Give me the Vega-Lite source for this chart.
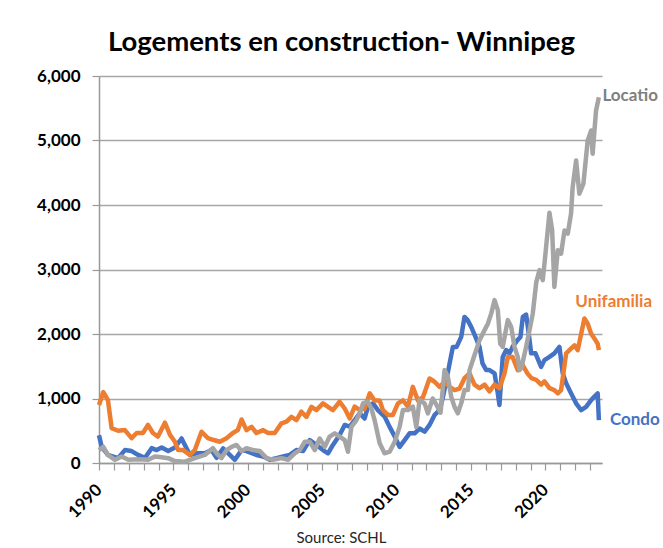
{
  "$schema": "https://vega.github.io/schema/vega-lite/v6.json",
  "autosize": {"type": "none"},
  "padding": {"left": 99, "top": 76, "right": 61, "bottom": 85},
  "width": 503,
  "height": 387,
  "background": "white",
  "config": {
    "view": {"stroke": null},
    "font": "Lato"
  },
  "title": {
    "text": "Logements en construction- Winnipeg",
    "font": "Lato",
    "fontSize": 27.5,
    "fontWeight": "bold",
    "color": "#000000",
    "anchor": "middle",
    "dx": -9,
    "offset": 11
  },
  "data": {
    "values": [
      {"s":"Condo","t":1990.00,"v":430},{"s":"Condo","t":1990.18,"v":250},{"s":"Condo","t":1990.60,"v":125},{"s":"Condo","t":1991.28,"v":75},{"s":"Condo","t":1991.74,"v":200},{"s":"Condo","t":1992.19,"v":185},{"s":"Condo","t":1992.62,"v":125},{"s":"Condo","t":1993.09,"v":80},{"s":"Condo","t":1993.54,"v":230},{"s":"Condo","t":1993.87,"v":200},{"s":"Condo","t":1994.21,"v":240},{"s":"Condo","t":1994.65,"v":185},{"s":"Condo","t":1995.10,"v":240},{"s":"Condo","t":1995.55,"v":380},{"s":"Condo","t":1995.77,"v":280},{"s":"Condo","t":1996.11,"v":125},{"s":"Condo","t":1996.56,"v":150},{"s":"Condo","t":1997.11,"v":150},{"s":"Condo","t":1997.56,"v":200},{"s":"Condo","t":1997.90,"v":80},{"s":"Condo","t":1998.34,"v":225},{"s":"Condo","t":1998.79,"v":125},{"s":"Condo","t":1999.13,"v":50},{"s":"Condo","t":1999.58,"v":200},{"s":"Condo","t":1999.91,"v":185},{"s":"Condo","t":2000.58,"v":125},{"s":"Condo","t":2001.03,"v":100},{"s":"Condo","t":2001.48,"v":50},{"s":"Condo","t":2001.93,"v":75},{"s":"Condo","t":2002.37,"v":100},{"s":"Condo","t":2002.82,"v":125},{"s":"Condo","t":2003.27,"v":200},{"s":"Condo","t":2003.71,"v":185},{"s":"Condo","t":2004.16,"v":355},{"s":"Condo","t":2004.61,"v":280},{"s":"Condo","t":2005.05,"v":200},{"s":"Condo","t":2005.39,"v":150},{"s":"Condo","t":2005.72,"v":280},{"s":"Condo","t":2006.17,"v":435},{"s":"Condo","t":2006.51,"v":590},{"s":"Condo","t":2006.85,"v":565},{"s":"Condo","t":2007.18,"v":665},{"s":"Condo","t":2007.52,"v":770},{"s":"Condo","t":2007.85,"v":690},{"s":"Condo","t":2008.07,"v":870},{"s":"Condo","t":2008.41,"v":925},{"s":"Condo","t":2008.74,"v":820},{"s":"Condo","t":2009.19,"v":720},{"s":"Condo","t":2009.53,"v":560},{"s":"Condo","t":2009.87,"v":410},{"s":"Condo","t":2010.20,"v":250},{"s":"Condo","t":2010.54,"v":355},{"s":"Condo","t":2010.87,"v":460},{"s":"Condo","t":2011.21,"v":460},{"s":"Condo","t":2011.54,"v":535},{"s":"Condo","t":2011.88,"v":485},{"s":"Condo","t":2012.21,"v":590},{"s":"Condo","t":2012.55,"v":745},{"s":"Condo","t":2012.89,"v":820},{"s":"Condo","t":2013.09,"v":1000},{"s":"Condo","t":2013.36,"v":1300},{"s":"Condo","t":2013.56,"v":1545},{"s":"Condo","t":2013.78,"v":1800},{"s":"Condo","t":2014.03,"v":1800},{"s":"Condo","t":2014.34,"v":1955},{"s":"Condo","t":2014.56,"v":2265},{"s":"Condo","t":2014.77,"v":2215},{"s":"Condo","t":2015.01,"v":2110},{"s":"Condo","t":2015.30,"v":1955},{"s":"Condo","t":2015.57,"v":1800},{"s":"Condo","t":2015.77,"v":1545},{"s":"Condo","t":2016.02,"v":1440},{"s":"Condo","t":2016.24,"v":1440},{"s":"Condo","t":2016.58,"v":1390},{"s":"Condo","t":2016.80,"v":1080},{"s":"Condo","t":2016.91,"v":900},{"s":"Condo","t":2017.13,"v":1645},{"s":"Condo","t":2017.36,"v":1750},{"s":"Condo","t":2017.58,"v":1700},{"s":"Condo","t":2017.79,"v":1800},{"s":"Condo","t":2018.12,"v":1905},{"s":"Condo","t":2018.32,"v":1955},{"s":"Condo","t":2018.48,"v":2265},{"s":"Condo","t":2018.70,"v":2300},{"s":"Condo","t":2018.79,"v":2160},{"s":"Condo","t":2018.93,"v":1905},{"s":"Condo","t":2019.04,"v":1700},{"s":"Condo","t":2019.33,"v":1700},{"s":"Condo","t":2019.71,"v":1490},{"s":"Condo","t":2019.93,"v":1595},{"s":"Condo","t":2020.27,"v":1645},{"s":"Condo","t":2020.60,"v":1700},{"s":"Condo","t":2020.94,"v":1800},{"s":"Condo","t":2021.16,"v":1390},{"s":"Condo","t":2021.39,"v":1235},{"s":"Condo","t":2021.72,"v":1080},{"s":"Condo","t":2022.06,"v":925},{"s":"Condo","t":2022.40,"v":820},{"s":"Condo","t":2022.73,"v":870},{"s":"Condo","t":2023.07,"v":975},{"s":"Condo","t":2023.29,"v":1030},{"s":"Condo","t":2023.51,"v":1080},{"s":"Condo","t":2023.59,"v":665},
      {"s":"Unifamilial","t":1990.00,"v":900},{"s":"Unifamilial","t":1990.29,"v":1100},{"s":"Unifamilial","t":1990.60,"v":975},{"s":"Unifamilial","t":1990.85,"v":540},{"s":"Unifamilial","t":1991.28,"v":500},{"s":"Unifamilial","t":1991.74,"v":510},{"s":"Unifamilial","t":1992.19,"v":385},{"s":"Unifamilial","t":1992.53,"v":465},{"s":"Unifamilial","t":1992.95,"v":465},{"s":"Unifamilial","t":1993.29,"v":590},{"s":"Unifamilial","t":1993.62,"v":465},{"s":"Unifamilial","t":1993.96,"v":410},{"s":"Unifamilial","t":1994.43,"v":625},{"s":"Unifamilial","t":1994.77,"v":435},{"s":"Unifamilial","t":1995.10,"v":330},{"s":"Unifamilial","t":1995.32,"v":200},{"s":"Unifamilial","t":1995.66,"v":200},{"s":"Unifamilial","t":1996.11,"v":125},{"s":"Unifamilial","t":1996.44,"v":200},{"s":"Unifamilial","t":1996.89,"v":485},{"s":"Unifamilial","t":1997.32,"v":385},{"s":"Unifamilial","t":1997.65,"v":360},{"s":"Unifamilial","t":1998.12,"v":330},{"s":"Unifamilial","t":1998.57,"v":385},{"s":"Unifamilial","t":1998.99,"v":465},{"s":"Unifamilial","t":1999.33,"v":510},{"s":"Unifamilial","t":1999.58,"v":675},{"s":"Unifamilial","t":1999.91,"v":510},{"s":"Unifamilial","t":2000.25,"v":560},{"s":"Unifamilial","t":2000.58,"v":465},{"s":"Unifamilial","t":2001.03,"v":510},{"s":"Unifamilial","t":2001.36,"v":465},{"s":"Unifamilial","t":2001.81,"v":465},{"s":"Unifamilial","t":2002.26,"v":615},{"s":"Unifamilial","t":2002.60,"v":640},{"s":"Unifamilial","t":2002.93,"v":715},{"s":"Unifamilial","t":2003.27,"v":665},{"s":"Unifamilial","t":2003.60,"v":795},{"s":"Unifamilial","t":2003.94,"v":715},{"s":"Unifamilial","t":2004.28,"v":870},{"s":"Unifamilial","t":2004.61,"v":820},{"s":"Unifamilial","t":2005.05,"v":925},{"s":"Unifamilial","t":2005.39,"v":870},{"s":"Unifamilial","t":2005.72,"v":820},{"s":"Unifamilial","t":2006.17,"v":950},{"s":"Unifamilial","t":2006.51,"v":845},{"s":"Unifamilial","t":2006.85,"v":690},{"s":"Unifamilial","t":2007.18,"v":875},{"s":"Unifamilial","t":2007.52,"v":820},{"s":"Unifamilial","t":2007.85,"v":845},{"s":"Unifamilial","t":2008.19,"v":1080},{"s":"Unifamilial","t":2008.52,"v":970},{"s":"Unifamilial","t":2008.86,"v":970},{"s":"Unifamilial","t":2009.08,"v":820},{"s":"Unifamilial","t":2009.42,"v":745},{"s":"Unifamilial","t":2009.75,"v":745},{"s":"Unifamilial","t":2010.09,"v":925},{"s":"Unifamilial","t":2010.42,"v":970},{"s":"Unifamilial","t":2010.76,"v":875},{"s":"Unifamilial","t":2011.09,"v":1180},{"s":"Unifamilial","t":2011.43,"v":970},{"s":"Unifamilial","t":2011.77,"v":1020},{"s":"Unifamilial","t":2012.21,"v":1310},{"s":"Unifamilial","t":2012.55,"v":1260},{"s":"Unifamilial","t":2012.89,"v":1180},{"s":"Unifamilial","t":2013.22,"v":1260},{"s":"Unifamilial","t":2013.56,"v":1180},{"s":"Unifamilial","t":2013.89,"v":1130},{"s":"Unifamilial","t":2014.23,"v":1155},{"s":"Unifamilial","t":2014.56,"v":1315},{"s":"Unifamilial","t":2014.90,"v":1390},{"s":"Unifamilial","t":2015.23,"v":1215},{"s":"Unifamilial","t":2015.57,"v":1160},{"s":"Unifamilial","t":2015.91,"v":1215},{"s":"Unifamilial","t":2016.24,"v":1110},{"s":"Unifamilial","t":2016.58,"v":1215},{"s":"Unifamilial","t":2016.91,"v":1160},{"s":"Unifamilial","t":2017.25,"v":1390},{"s":"Unifamilial","t":2017.47,"v":1645},{"s":"Unifamilial","t":2017.79,"v":1645},{"s":"Unifamilial","t":2018.14,"v":1440},{"s":"Unifamilial","t":2018.48,"v":1515},{"s":"Unifamilial","t":2018.79,"v":1390},{"s":"Unifamilial","t":2019.06,"v":1315},{"s":"Unifamilial","t":2019.38,"v":1290},{"s":"Unifamilial","t":2019.71,"v":1215},{"s":"Unifamilial","t":2019.93,"v":1265},{"s":"Unifamilial","t":2020.27,"v":1160},{"s":"Unifamilial","t":2020.60,"v":1130},{"s":"Unifamilial","t":2020.83,"v":1080},{"s":"Unifamilial","t":2021.05,"v":1130},{"s":"Unifamilial","t":2021.39,"v":1700},{"s":"Unifamilial","t":2021.61,"v":1750},{"s":"Unifamilial","t":2021.95,"v":1825},{"s":"Unifamilial","t":2022.17,"v":1750},{"s":"Unifamilial","t":2022.40,"v":2005},{"s":"Unifamilial","t":2022.62,"v":2240},{"s":"Unifamilial","t":2022.84,"v":2160},{"s":"Unifamilial","t":2023.07,"v":2005},{"s":"Unifamilial","t":2023.29,"v":1930},{"s":"Unifamilial","t":2023.51,"v":1850},{"s":"Unifamilial","t":2023.59,"v":1750},
      {"s":"Location","t":1990.00,"v":200},{"s":"Location","t":1990.29,"v":250},{"s":"Location","t":1990.60,"v":125},{"s":"Location","t":1991.07,"v":50},{"s":"Location","t":1991.52,"v":100},{"s":"Location","t":1991.97,"v":50},{"s":"Location","t":1992.64,"v":60},{"s":"Location","t":1993.31,"v":50},{"s":"Location","t":1993.76,"v":100},{"s":"Location","t":1994.21,"v":90},{"s":"Location","t":1994.65,"v":75},{"s":"Location","t":1995.10,"v":30},{"s":"Location","t":1995.77,"v":20},{"s":"Location","t":1996.44,"v":75},{"s":"Location","t":1997.11,"v":125},{"s":"Location","t":1997.65,"v":230},{"s":"Location","t":1997.90,"v":150},{"s":"Location","t":1998.23,"v":75},{"s":"Location","t":1998.57,"v":200},{"s":"Location","t":1998.91,"v":250},{"s":"Location","t":1999.24,"v":280},{"s":"Location","t":1999.58,"v":185},{"s":"Location","t":1999.91,"v":230},{"s":"Location","t":2000.36,"v":200},{"s":"Location","t":2000.81,"v":185},{"s":"Location","t":2001.26,"v":75},{"s":"Location","t":2001.70,"v":50},{"s":"Location","t":2002.26,"v":75},{"s":"Location","t":2002.70,"v":50},{"s":"Location","t":2003.15,"v":150},{"s":"Location","t":2003.49,"v":200},{"s":"Location","t":2003.83,"v":330},{"s":"Location","t":2004.16,"v":330},{"s":"Location","t":2004.50,"v":200},{"s":"Location","t":2004.83,"v":380},{"s":"Location","t":2005.17,"v":250},{"s":"Location","t":2005.50,"v":410},{"s":"Location","t":2005.84,"v":460},{"s":"Location","t":2006.17,"v":410},{"s":"Location","t":2006.51,"v":355},{"s":"Location","t":2006.73,"v":175},{"s":"Location","t":2006.96,"v":560},{"s":"Location","t":2007.30,"v":665},{"s":"Location","t":2007.52,"v":770},{"s":"Location","t":2007.74,"v":925},{"s":"Location","t":2008.07,"v":950},{"s":"Location","t":2008.30,"v":845},{"s":"Location","t":2008.52,"v":665},{"s":"Location","t":2008.86,"v":305},{"s":"Location","t":2009.19,"v":150},{"s":"Location","t":2009.53,"v":175},{"s":"Location","t":2009.87,"v":330},{"s":"Location","t":2010.20,"v":560},{"s":"Location","t":2010.42,"v":820},{"s":"Location","t":2010.76,"v":820},{"s":"Location","t":2011.09,"v":875},{"s":"Location","t":2011.32,"v":560},{"s":"Location","t":2011.54,"v":975},{"s":"Location","t":2011.88,"v":925},{"s":"Location","t":2012.10,"v":770},{"s":"Location","t":2012.42,"v":1000},{"s":"Location","t":2012.68,"v":900},{"s":"Location","t":2012.95,"v":780},{"s":"Location","t":2013.22,"v":1440},{"s":"Location","t":2013.44,"v":1340},{"s":"Location","t":2013.67,"v":1025},{"s":"Location","t":2013.89,"v":870},{"s":"Location","t":2014.11,"v":770},{"s":"Location","t":2014.34,"v":925},{"s":"Location","t":2014.56,"v":1130},{"s":"Location","t":2014.79,"v":1130},{"s":"Location","t":2014.90,"v":1440},{"s":"Location","t":2015.23,"v":1670},{"s":"Location","t":2015.57,"v":1905},{"s":"Location","t":2015.91,"v":2060},{"s":"Location","t":2016.13,"v":2160},{"s":"Location","t":2016.36,"v":2320},{"s":"Location","t":2016.58,"v":2525},{"s":"Location","t":2016.80,"v":2370},{"s":"Location","t":2016.96,"v":1850},{"s":"Location","t":2017.13,"v":1800},{"s":"Location","t":2017.47,"v":2215},{"s":"Location","t":2017.70,"v":2110},{"s":"Location","t":2017.92,"v":1800},{"s":"Location","t":2018.14,"v":1645},{"s":"Location","t":2018.26,"v":1440},{"s":"Location","t":2018.39,"v":1480},{"s":"Location","t":2018.70,"v":1800},{"s":"Location","t":2018.93,"v":2060},{"s":"Location","t":2019.15,"v":2320},{"s":"Location","t":2019.38,"v":2800},{"s":"Location","t":2019.60,"v":2990},{"s":"Location","t":2019.82,"v":2835},{"s":"Location","t":2020.00,"v":3245},{"s":"Location","t":2020.27,"v":3880},{"s":"Location","t":2020.45,"v":3610},{"s":"Location","t":2020.60,"v":2730},{"s":"Location","t":2020.83,"v":3300},{"s":"Location","t":2021.05,"v":3245},{"s":"Location","t":2021.28,"v":3605},{"s":"Location","t":2021.50,"v":3555},{"s":"Location","t":2021.72,"v":3865},{"s":"Location","t":2021.83,"v":4280},{"s":"Location","t":2022.06,"v":4690},{"s":"Location","t":2022.28,"v":4175},{"s":"Location","t":2022.55,"v":4330},{"s":"Location","t":2022.84,"v":5000},{"s":"Location","t":2023.07,"v":5155},{"s":"Location","t":2023.17,"v":4795},{"s":"Location","t":2023.40,"v":5465},{"s":"Location","t":2023.59,"v":5670}
    ]
  },
  "encoding": {
    "x": {
      "field": "t",
      "type": "quantitative",
      "scale": {"domain": [1990, 2023.8], "nice": false, "zero": false},
      "axis": {
        "title": "Source: SCHL",
        "titleFont": "Lato",
        "titleFontSize": 15,
        "titleFontWeight": "normal",
        "titleColor": "#262626",
        "titlePadding": 10,
        "titleX": 242,
        "values": [1990,1991,1992,1993,1994,1995,1996,1997,1998,1999,2000,2001,2002,2003,2004,2005,2006,2007,2008,2009,2010,2011,2012,2013,2014,2015,2016,2017,2018,2019,2020,2021,2022,2023],
        "labelExpr": "datum.value % 5 == 0 ? format(datum.value, 'd') : ''",
        "labelAngle": -45,
        "labelAlign": "right",
        "labelBaseline": "middle",
        "labelFont": "Lato",
        "labelFontSize": 17,
        "labelFontWeight": "bold",
        "labelColor": "#000000",
        "labelPadding": 17,
        "labelOverlap": false,
        "labelFlush": false,
        "grid": false,
        "domainColor": "#999999",
        "domainWidth": 1.5,
        "tickColor": "#999999",
        "tickWidth": 1.2,
        "tickSize": 7
      }
    },
    "y": {
      "field": "v",
      "type": "quantitative",
      "scale": {"domain": [0, 6000], "nice": false},
      "axis": {
        "title": null,
        "values": [0,1000,2000,3000,4000,5000,6000],
        "format": ",.0f",
        "labelFont": "Lato",
        "labelFontSize": 17,
        "labelFontWeight": "bold",
        "labelColor": "#000000",
        "labelPadding": 12,
        "grid": true,
        "gridColor": "#a6a6a6",
        "gridWidth": 1.5,
        "domainColor": "#999999",
        "domainWidth": 1.5,
        "tickColor": "#999999",
        "tickWidth": 1.2,
        "tickSize": 7
      }
    }
  },
  "layer": [
    {
      "transform": [{"filter": "datum.s == 'Condo'"}],
      "mark": {"type": "line", "color": "#4472C4", "strokeWidth": 4.5, "strokeJoin": "round"}
    },
    {
      "transform": [{"filter": "datum.s == 'Unifamilial'"}],
      "mark": {"type": "line", "color": "#ED7D31", "strokeWidth": 4.5, "strokeJoin": "round"}
    },
    {
      "transform": [{"filter": "datum.s == 'Location'"}],
      "mark": {"type": "line", "color": "#A5A5A5", "strokeWidth": 4.5, "strokeJoin": "round"}
    },
    {
      "data": {
        "values": [
          {"label": "Locatio", "t": 2023.83, "v": 5697, "c": "#7F7F7F"},
          {"label": "Unifamilia", "t": 2022.01, "v": 2492, "c": "#ED7D31"},
          {"label": "Condo", "t": 2024.33, "v": 666, "c": "#4472C4"}
        ]
      },
      "mark": {"type": "text", "align": "left", "baseline": "middle", "font": "Lato", "fontSize": 17, "fontWeight": "bold"},
      "encoding": {
        "text": {"field": "label"},
        "color": {"field": "c", "type": "nominal", "scale": null}
      }
    }
  ]
}
